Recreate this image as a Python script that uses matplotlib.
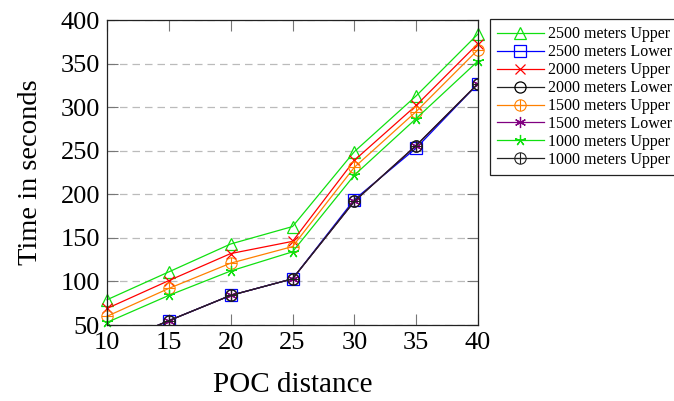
import matplotlib
matplotlib.use("Agg")
import matplotlib.pyplot as plt

plt.rcParams['font.family'] = ['Liberation Serif', 'DejaVu Serif']
plt.rcParams['mathtext.fontset'] = 'stix'

x = [10, 15, 20, 25, 30, 35, 40]
x_low = [10, 15, 20, 25, 30, 35, 40]

u2500 = [79, 111, 143, 163, 249, 313, 384]
l2500 = [25, 55, 84, 103, 194, 253, 327]
u2000 = [69, 101, 132, 146, 239, 302, 373]
l2000 = [25, 55, 84, 103, 192, 256, 327]
u1500 = [60, 92, 121, 140, 231, 295, 366]
l1500 = [25, 55, 84, 103, 192, 256, 327]
u1000 = [53, 84, 112, 134, 222, 287, 353]
u1000b = [25, 55, 84, 103, 192, 256, 327]

labels = ["2500 meters Upper", "2500 meters Lower", "2000 meters Upper",
          "2000 meters Lower", "1500 meters Upper", "1500 meters Lower",
          "1000 meters Upper", "1000 meters Upper"]

xticks = [10, 15, 20, 25, 30, 35, 40]
yticks = [50, 100, 150, 200, 250, 300, 350, 400]

fig = plt.figure(figsize=(6.74, 4.01), dpi=100)
ax = fig.add_axes([0.1588, 0.1895, 0.7092 - 0.1588, 0.950 - 0.1895])

green = '#10e010'
orange = '#ff8000'
purple = '#800080'
lw = 0.9
ms = 8

ax.plot(x, u2500, color=green, lw=lw, marker='^', ms=ms, mfc='none', mec=green, mew=0.9,
        label=labels[0], clip_on=False)
ax.plot(x_low, l2500, color='blue', lw=lw, marker='s', ms=ms, mfc='none', mec='blue', mew=0.9,
        label=labels[1])
ax.plot(x, u2000, color='red', lw=lw, marker='x', ms=7, mec='red', mew=0.9,
        label=labels[2], clip_on=False)
ax.plot(x_low, l2000, color='#222222', lw=lw, marker='o', ms=ms, mfc='none', mec='black', mew=0.9,
        label=labels[3])
ax.plot(x, u1500, color=orange, lw=lw, marker='$\\oplus$', ms=9, mec=orange, mew=0,
        label=labels[4], clip_on=False)
ax.plot(x_low, l1500, color=purple, lw=lw, marker=(6, 2, 0), ms=ms, mec=purple, mew=0.9,
        label=labels[5])
ax.plot(x, u1000, color=green, lw=lw, marker=(5, 2, 0), ms=ms, mec=green, mew=0.9,
        label=labels[6], clip_on=False)
ax.plot(x_low, u1000b, color='#222222', lw=lw, marker='$\\oplus$', ms=9, mec='black', mew=0,
        label=labels[7])

ax.set_xlim(10, 40)
ax.set_ylim(50, 400)
ax.set_xticks(xticks)
ax.set_yticks(yticks)
ax.tick_params(direction='in', length=8, width=0.8, color='#777777', top=True, right=True,
               labelsize=19, pad=5)
ax.yaxis.grid(True, linestyle=(0, (6, 4)), color='#bbbbbb', lw=0.9)
for s in ax.spines.values():
    s.set_color('#222222')
    s.set_linewidth(0.9)

ax.set_xlabel("POC distance", fontsize=21, labelpad=13)
ax.set_ylabel("Time in seconds", fontsize=20.5, labelpad=13)

leg = fig.legend(loc='upper left', bbox_to_anchor=(0.727, 0.952), fontsize=11.5,
                 frameon=True, fancybox=False, edgecolor='#222222', framealpha=1,
                 handlelength=2.9, handletextpad=0.3, labelspacing=0.12, borderpad=0.45,
                 borderaxespad=0)
leg.get_frame().set_linewidth(0.9)

fig.savefig("out.png", dpi=100)
